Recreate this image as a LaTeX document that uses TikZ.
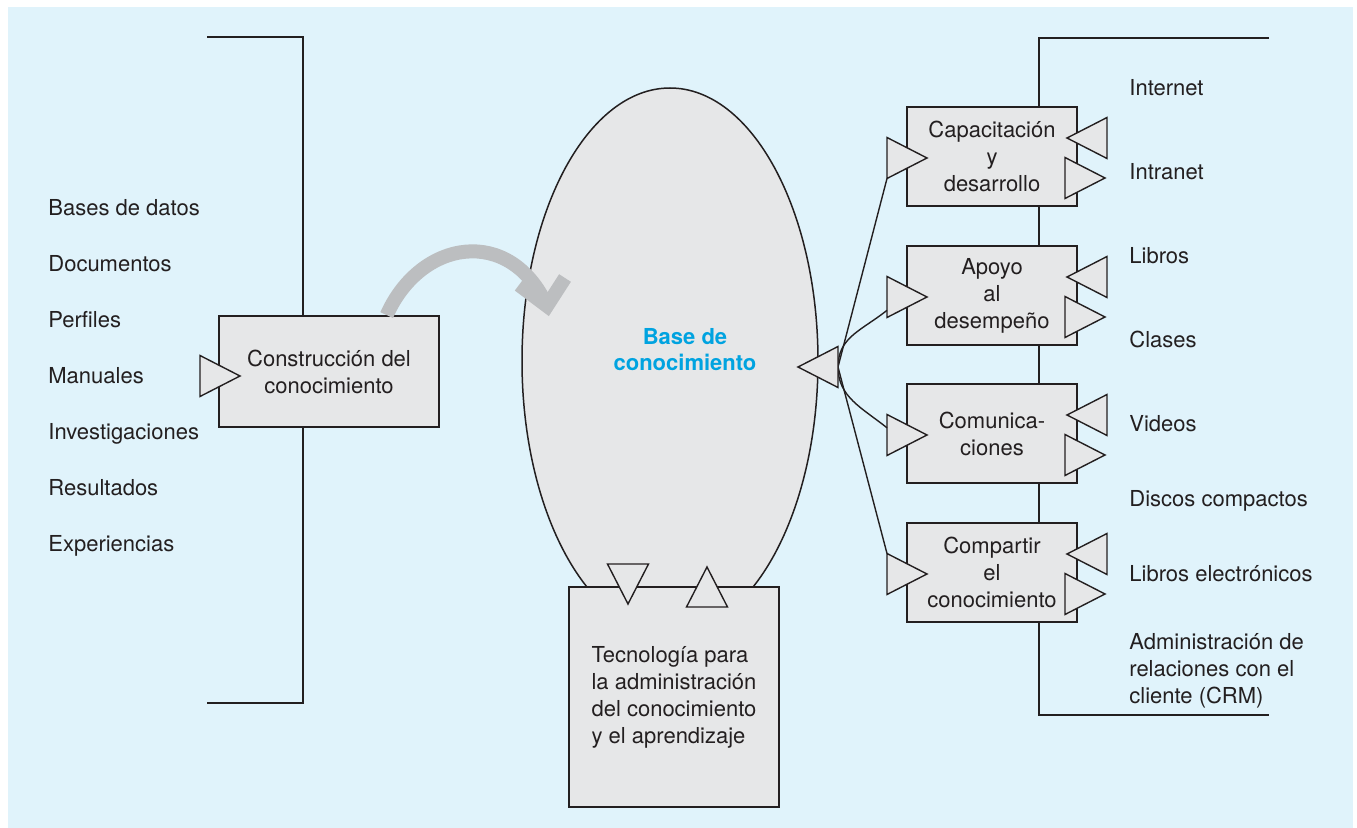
\documentclass[tikz,border=0pt]{standalone}
\usepackage{fontspec}
\setmainfont{TeX Gyre Heros}
\usepackage{tikz}
\usetikzlibrary{positioning,shapes.geometric,calc}
\definecolor{ink}{HTML}{231F20}
\definecolor{paper}{HTML}{E0F3FB}
\definecolor{boxgray}{HTML}{E6E7E8}
\definecolor{flowgray}{HTML}{BCBEC0}
\definecolor{kbblue}{HTML}{00A3E0}
\tikzset{
  item/.style={font=\fontsize{11}{13.5}\selectfont, text=ink, inner sep=0pt},
  box/.style={draw=ink, line width=0.9pt, fill=boxgray, text=ink, align=center,
    inner sep=0pt, font=\fontsize{11}{13.5}\selectfont},
  tri/.style={draw=ink, line width=0.7pt, fill=boxgray, line join=miter},
  bracket/.style={draw=ink, line width=0.9pt},
  feed/.style={draw=ink, line width=0.7pt},
  flow/.style={draw=flowgray, line width=7pt}}
% triangle: name, tip, rotation (0 = points right)
\newcommand{\flowtri}[3]{%
  \begin{scope}[shift={(#2)},rotate=#3]
    \draw[tri] (0,0) -- (-40,-20.5) -- (-40,20.5) -- cycle;
    \coordinate (#1) at (-40,0);
    \coordinate (#1-u) at (-40,-20.5);
    \coordinate (#1-d) at (-40,20.5);
  \end{scope}}

\begin{document}
\begin{tikzpicture}[x=0.5pt,y=-0.5pt]
  \useasboundingbox (0,0) rectangle (1357,828);
  \fill[paper] (8,7) rectangle (1353,828);

  % brackets
  \draw[bracket] (207,37) -| (303,703) -- (207,703);
  \draw[bracket] (1269,38) -| (1039,715) -- (1269,715);

  % sources
  \foreach \t [count=\i] in {Bases de datos,Documentos,Perfiles,Manuales,Investigaciones,Resultados,Experiencias}
    \node[item, anchor=base west] (src\i) at (48,160+56*\i) {\t};

  \node[box, minimum width=110pt, minimum height=55.5pt] (build) at (329,371.5) {Construcción del\\conocimiento};
  \flowtri{buildin}{240,376}{0}

  % knowledge base
  \node[ellipse, draw=ink, line width=0.75pt, fill=boxgray, minimum width=148pt,
    minimum height=273pt, inner sep=0pt] (kb) at (670,361) {};
  \node[font=\bfseries\fontsize{11}{13}\selectfont, text=kbblue, align=center, inner sep=0pt] (kbtext) at (685,350) {Base de\\conocimiento};

  \coordinate (kbin) at (547,306);
  \draw[flow] ($(build.north west)!0.76!(build.north east)$) .. controls +(34,-76) and +(-37,-81) .. (kbin);
  \draw[flow, line join=miter] ($(kbin)+(-28,-21)$) -- (kbin) -- ($(kbin)+(18,-28)$);

  % technology
  \node[box, minimum width=105pt, minimum height=110pt, align=left] (tech) at (674,697)
    {Tecnología para\\la administración\\del conocimiento\\y el aprendizaje};
  \flowtri{techdown}{628,604}{-90}
  \flowtri{techup}{707,567}{90}

  % channels
  \foreach \y/\n/\t in {156.5/train/{Capacitación\\y\\desarrollo},
                        295.5/support/{Apoyo\\al\\desempeño},
                        433.5/comm/{Comunica-\\ciones},
                        572.5/share/{Compartir\\el\\conocimiento}} {
    \node[box, minimum width=85pt, minimum height=49.5pt] (\n) at (992,\y) {\t};
    \flowtri{\n-in}{927,\y+1.5}{0}
    \flowtri{\n-back}{1067,\y-18.5}{180}
    \flowtri{\n-fwd}{1105,\y+21.5}{0}
  }

  \draw[feed] (838,367) coordinate (hub) -- (train-in-d);
  \draw[feed] (hub) .. controls +(0,-30) and +(-25,20) .. ($(support-in)!0.65!(support-in-d)$);
  \draw[feed] (hub) .. controls +(0,30) and +(-25,-20) .. ($(comm-in)!0.35!(comm-in-u)$);
  \draw[feed] (hub) -- (share-in-u);
  \flowtri{kbout}{798,367}{180}

  % outlets
  \foreach \t/\yb [count=\i] in {Internet/96,Intranet/180,Libros/264,Clases/348,Videos/432,Discos compactos/507,Libros electrónicos/582}
    \node[item, anchor=base west] (out\i) at (1129,\yb) {\t};
  \node[item, anchor=north west, align=left] (crm) at (1129,633)
    {Administración de\\relaciones con el\\cliente (CRM)};
\end{tikzpicture}
\end{document}
